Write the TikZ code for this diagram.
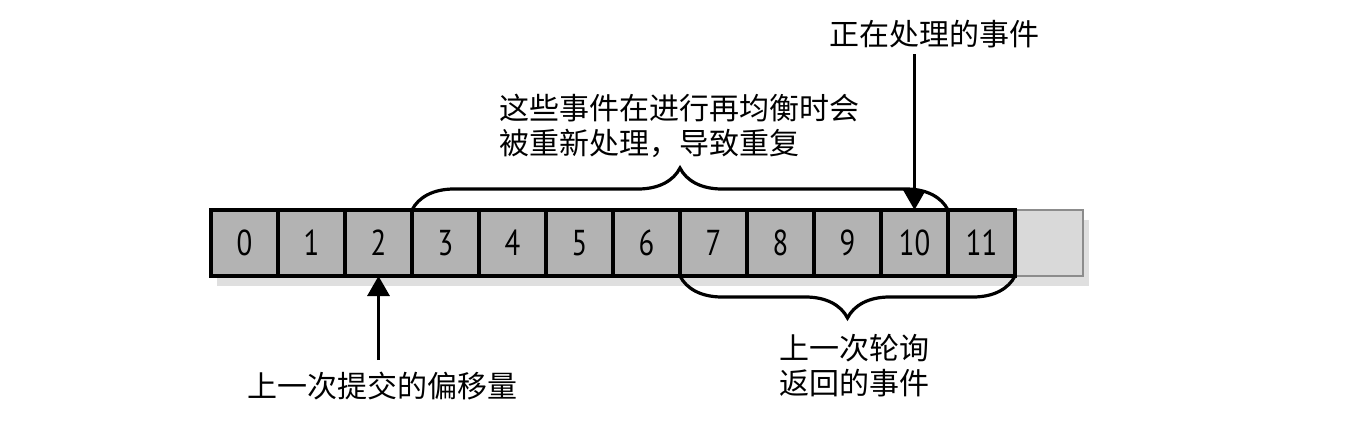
\documentclass[tikz,border=0pt]{standalone}
\usepackage{fontspec}
\usetikzlibrary{arrows.meta,positioning,decorations.pathreplacing,shadows,fit,backgrounds}
\newfontfamily\cjk{Noto Sans CJK SC}
\newfontfamily\numfont[FakeStretch=0.8]{PT Sans}
\definecolor{cellgray}{HTML}{B3B3B3}
\definecolor{emptygray}{HTML}{D9D9D9}
\definecolor{emptyline}{HTML}{8C8C8C}

\begin{document}
\begin{tikzpicture}[
    node distance=0pt,
    cell/.style={draw, line width=1.8pt, fill=cellgray, outer sep=0pt, inner sep=0pt, minimum width=33.5pt, minimum height=33pt, font=\numfont\fontsize{18pt}{18pt}\selectfont},
    empty/.style={draw=emptyline, line width=1.4pt, fill=emptygray, outer sep=0pt, minimum width=34pt, minimum height=33pt},
    soft/.style={drop shadow={shadow xshift=3pt, shadow yshift=-5pt, opacity=.25}},
    note/.style={inner sep=0pt, align=left, font=\cjk\fontsize{15pt}{17.5pt}\selectfont},
    arr/.style={-{Triangle[length=10pt,width=11pt]}, line width=1.6pt},
    curly/.style={decorate, decoration={brace, amplitude=21pt}, line width=1.6pt}
  ]
    \useasboundingbox (-122.25pt,-90.5pt) rectangle (563.75pt,121.5pt);

    % the log, one cell per offset
    \node[cell] (c0) at (0,0) {0};
    \foreach \i [count=\j from 0] in {1,...,11}
      \node[cell, right=of c\j] (c\i) {\i};

    \begin{scope}[on background layer]
      \node[fit=(c0)(c11), inner sep=0pt, fill=white, soft] (log) {};
      \node[empty, right=of c11, soft] (free) {};
    \end{scope}

    \draw[curly] (c3.north west) -- (c10.north east);
    \draw[curly] (c11.south east) -- (c7.south west);

    \node[note, above=26pt of c6.north east] (redo) {这些事件在进行再均衡时会\\被重新处理，导致重复};
    \node[note, below=29pt of c9.south, xshift=3.5pt] (polled) {上一次轮询\\返回的事件};
    \node[note, above=81pt of c10.north, xshift=10pt] (current) {正在处理的事件};
    \node[note, below=48pt of c2.south, xshift=2pt] (committed) {上一次提交的偏移量};

    \draw[arr, shorten <=3pt] (current.south -| c10.north) -- (c10.north);
    \draw[arr, shorten <=6pt] (committed.north -| c2.south) -- (c2.south);
\end{tikzpicture}
\end{document}
